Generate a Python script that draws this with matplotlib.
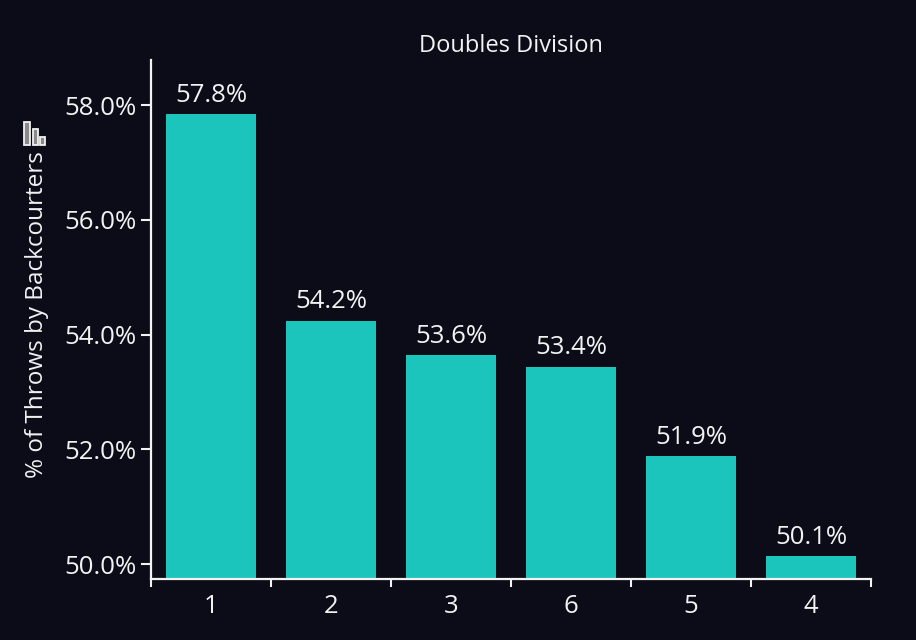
import matplotlib
matplotlib.use("Agg")
import matplotlib.pyplot as plt
from matplotlib.patches import Rectangle
from matplotlib.ticker import FuncFormatter, FixedLocator

categories = ["1", "2", "3", "6", "5", "4"]
values = [57.84, 54.24, 53.64, 53.44, 51.88, 50.14]
yticks = [50.0, 52.0, 54.0, 56.0, 58.0]
title = "Doubles Division"
ylabel = "% of Throws by Backcourters"

BG = "#0b0c18"
BAR = "#1cc5bc"
FG = "#f2f2f2"

plt.rcParams["font.family"] = ["Open Sans", "DejaVu Sans"]

W, H = 916, 640
fig = plt.figure(figsize=(W / 100, H / 100), dpi=100, facecolor=BG)
ax = fig.add_axes([151 / W, 1 - 579 / H, 720 / W, 519 / H], facecolor=BG)

x = list(range(len(categories)))
ax.bar(x, values, width=0.75, color=BAR, zorder=2)
for xi, v in zip(x, values):
    ax.annotate(f"{v:.1f}%", (xi, v), xytext=(0, 9), textcoords="offset points",
                ha="center", va="baseline", color=FG, fontsize=18.5)

ax.set_xlim(-0.5, len(categories) - 0.5)
ax.set_ylim(49.744, 58.784)
ax.set_xticks(x)
ax.set_xticklabels(categories)
ax.xaxis.set_minor_locator(FixedLocator([i - 0.5 for i in range(len(categories) + 1)]))
ax.tick_params(axis="x", which="major", length=0, pad=11, labelsize=18.5, colors=FG)
ax.tick_params(axis="x", which="minor", length=6, width=1.5, color=FG, direction="out")
ax.set_yticks(yticks)
ax.yaxis.set_major_formatter(FuncFormatter(lambda v, p: f"{v:.1f}%"))
ax.tick_params(axis="y", length=7.5, width=1.5, labelsize=18.5, colors=FG, pad=3)

for s in ["top", "right"]:
    ax.spines[s].set_visible(False)
for s in ["left", "bottom"]:
    ax.spines[s].set_color(FG)
    ax.spines[s].set_linewidth(1.6)

ax.set_title(title, color=FG, fontsize=17, fontweight="medium", pad=6)
fig.text(37 / W, 1 - 315 / H, ylabel, rotation=90, ha="center", va="center",
         color=FG, fontsize=17.5)

# small bar-chart icon next to the axis label
def px(x0, y0, w, h):
    return Rectangle((x0 / W, 1 - (y0 + h) / H), w / W, h / H, transform=fig.transFigure,
                     facecolor="#8a8a8a", edgecolor=FG, linewidth=1.3)
for r in [px(24, 122, 6, 23), px(32.5, 129, 5, 16), px(40, 137, 5, 8)]:
    fig.add_artist(r)

fig.savefig("out.png", dpi=100, facecolor=BG)
